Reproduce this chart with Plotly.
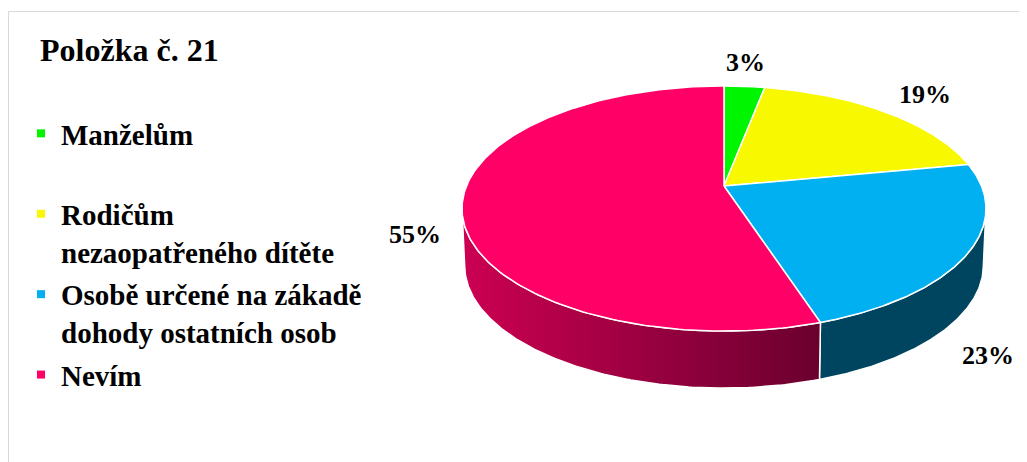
import numpy as np
import plotly.graph_objects as go

# ---- data ----
categories = ["Manželům", "Rodičům<br>nezaopatřeného dítěte",
              "Osobě určené na zákadě<br>dohody ostatních osob", "Nevím"]
values = [3, 19, 23, 55]
pct_labels = ["3%", "19%", "23%", "55%"]
title_text = "Položka č. 21"

# ---- style ----
top_colors = ["#00F500", "#F8F800", "#00B0F0", "#FF0066"]
side_colors = [("#00B000", "#007000"), ("#B5B500", "#7A7A00"),
               ("#00455F", "#00455F"), ("#CC0052", "#6A002E")]
FONT = "Liberation Serif"
W, H = 1027, 462
OFF = 8  # page body margin: figure sits 8px in from the window corner
# perspective disc geometry (window pixels)
CX, CY, RA, RB, K, DEPTH, BOTTOM_SHRINK = 724, 186, 257.5, 118.4, 0.184, 57, 0.99
# label placement ellipse
LCX, LCY, LA, LB = 725, 208, 262, 122
LABEL_K = (1.18, 1.2)
label_nudge = [(-9, 0), (-19, -10), (-3, 73), (-5, 4)]

fig = go.Figure()

total = float(sum(values))
cum = np.concatenate([[0], np.cumsum(values)]) / total * 2 * np.pi


def proj(th, dy=0.0, shrink=1.0):
    s, t = np.sin(th), np.cos(th)
    d = 1 + K * t
    return CX + shrink * RA * s / d, CY - RB * t / d + dy


# front side walls (visible between silhouette angles)
sil = np.arccos(-K)
for i in range(len(values)):
    t0, t1 = max(cum[i], sil), min(cum[i + 1], 2 * np.pi - sil)
    if t1 <= t0:
        continue
    th = np.linspace(t0, t1, 160)
    xt, yt = proj(th)
    xb, yb = proj(th[::-1], DEPTH, BOTTOM_SHRINK)
    c0, c1 = side_colors[i]
    fig.add_trace(go.Scatter(
        x=np.concatenate([xt, xb, xt[:1]]), y=np.concatenate([yt, yb, yt[:1]]),
        mode="lines", fill="toself", line=dict(color="white", width=1.5),
        fillgradient=dict(type="horizontal", colorscale=[[0, c0], [1, c1]]),
        hoverinfo="skip", showlegend=False))

# top faces
for i in range(len(values)):
    th = np.linspace(cum[i], cum[i + 1], 220)
    xs, ys = proj(th)
    fig.add_trace(go.Scatter(
        x=np.concatenate([[CX], xs, [CX]]), y=np.concatenate([[CY], ys, [CY]]),
        mode="lines", fill="toself", fillcolor=top_colors[i],
        line=dict(color="white", width=1.5),
        name=categories[i], hoverinfo="skip", showlegend=False))

# legend entries
for i, cat in enumerate(categories):
    name = "<b>" + cat.replace("<br>", "</b><br><b>") + "</b>"
    if "<br>" not in cat:
        name += "<br> "
    fig.add_trace(go.Scatter(
        x=[None], y=[None], mode="markers", name=name,
        legendgroup=str(i),
        marker=dict(symbol="square", size=8, color=top_colors[i])))

# percentage labels
for i, lab in enumerate(pct_labels):
    mid = (cum[i] + cum[i + 1]) / 2
    lx = LCX + LA * LABEL_K[0] * np.sin(mid) + label_nudge[i][0]
    ly = LCY - LB * LABEL_K[1] * np.cos(mid) + label_nudge[i][1]
    fig.add_annotation(x=lx, y=ly, text="<b>%s</b>" % lab, showarrow=False,
                       font=dict(family=FONT, size=26, color="black"),
                       xanchor="center", yanchor="middle")

# frame
fig.add_shape(type="rect", xref="x", yref="y", x0=8.5, y0=11.5, x1=W + 30, y1=H + 30,
              line=dict(color="#D9D9D9", width=1), fillcolor="rgba(0,0,0,0)", layer="below")

fig.update_layout(
    width=W, height=H, margin=dict(l=0, r=0, t=0, b=0),
    paper_bgcolor="white", plot_bgcolor="white",
    xaxis=dict(range=[OFF, W + OFF], visible=False, fixedrange=True),
    yaxis=dict(range=[H + OFF, OFF], visible=False, fixedrange=True),
    title=dict(text="<b>%s</b>" % title_text, x=(40 - OFF) / W, xanchor="left",
               y=1 - (50 - OFF) / H, yanchor="middle",
               font=dict(family=FONT, size=32, color="black")),
    legend=dict(x=(21 - OFF) / W, xanchor="left", y=1 - (108 - OFF) / H, yanchor="top",
                font=dict(family=FONT, size=29, color="black"),
                traceorder="grouped", tracegroupgap=2, valign="top",
                itemwidth=30, bgcolor="rgba(0,0,0,0)", itemclick=False),
    showlegend=True,
)

fig.write_html("out.html")
